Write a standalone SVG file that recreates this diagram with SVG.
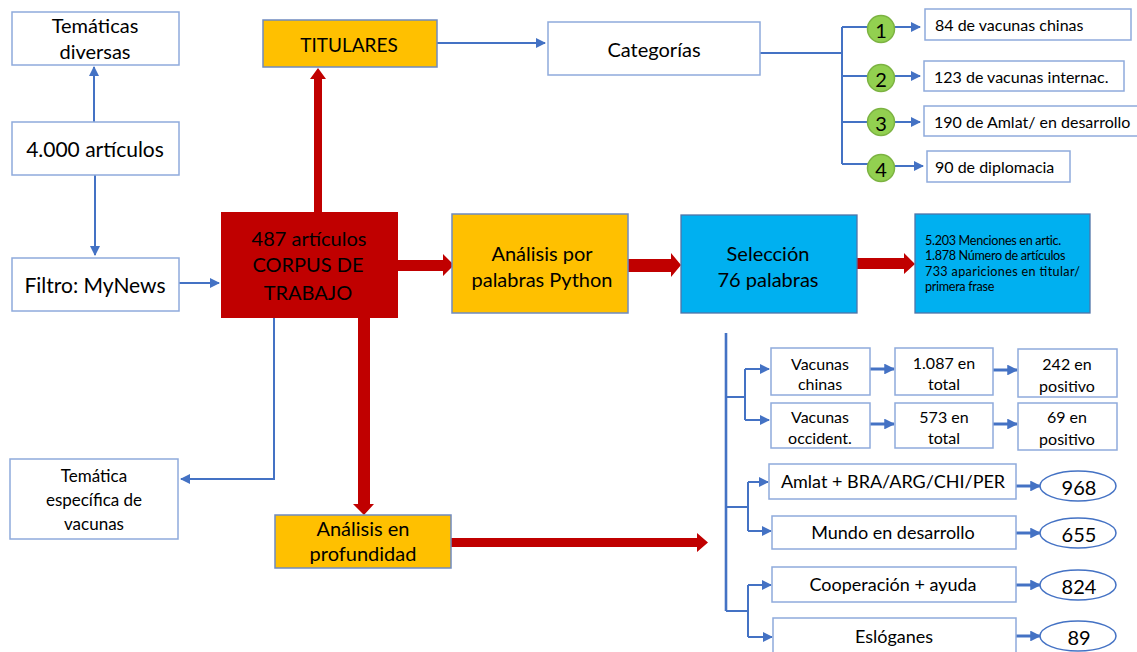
<svg xmlns="http://www.w3.org/2000/svg" width="1137" height="652" viewBox="0 0 1137 652">
<defs>
<style>
text{font-family:Lato,"Open Sans","Liberation Sans",sans-serif;fill:#000;text-anchor:middle;dominant-baseline:central}
.box{fill:#fff;stroke:#8FAADC;stroke-width:1.5}
.yel{fill:#FFC000;stroke:#6F8BC0;stroke-width:1.5}
.cyan{fill:#00B0F0;stroke:#4F74A8;stroke-width:1.3}
.red{fill:#C00000}
.c{fill:none;stroke:#4472C4;stroke-width:2}
.ct{fill:none;stroke:#4472C4;stroke-width:2.6}
.ca{fill:none;stroke:#4472C4;stroke-width:2;marker-end:url(#ah)}
.cb{fill:none;stroke:#4472C4;stroke-width:3;marker-end:url(#ah2)}
.circ{fill:#92D050;stroke:#7CB342;stroke-width:1.5}
.ell{fill:#fff;stroke:#4472C4;stroke-width:1.5}
.f21{font-size:21px}
.f20{font-size:20px}
.f19{font-size:19px}
.f18{font-size:18px}
.f17{font-size:17px}
.f16{font-size:16px}
.sm{font-size:12.6px;text-anchor:start;dominant-baseline:auto;letter-spacing:-0.3px}
</style>
<marker id="ah" viewBox="0 0 10 10" refX="9" refY="5" markerWidth="5" markerHeight="5" orient="auto" markerUnits="strokeWidth">
<path d="M0,0L10,5L0,10z" fill="#4472C4"/>
</marker>
<marker id="ah2" viewBox="0 0 10 10" refX="9" refY="5" markerWidth="3.6" markerHeight="3.6" orient="auto" markerUnits="strokeWidth">
<path d="M0,0L10,5L0,10z" fill="#4472C4"/>
</marker>
</defs>

<g id="connectors">
<path class="ca" d="M94,122V67"/>
<path class="ca" d="M95,175V255"/>
<path class="ca" d="M179,283H219"/>
<path class="c" d="M274,318V479H184"/>
<path class="ca" d="M274,479H181"/>
<path class="ca" d="M437,43H545"/>
<path class="c" d="M760,53H842"/>
<path class="c" d="M842,27V164"/>
<path class="c" d="M842,27H867M842,76H867M842,122H867M842,164H868"/>
<path class="ca" d="M895,27H920"/>
<path class="ca" d="M895,76H920"/>
<path class="ca" d="M895,122H920"/>
<path class="ca" d="M895,166H923"/>
<path class="ct" d="M726,333V611"/>
<path class="c" d="M726,397H745M745,369V420"/>
<path class="ca" d="M745,369H769"/>
<path class="ca" d="M745,420H769"/>
<path class="cb" d="M870,369H894"/>
<path class="cb" d="M993,370H1017"/>
<path class="cb" d="M870,424H894"/>
<path class="cb" d="M993,424H1017"/>
<path class="c" d="M726,507H748M748,482V531"/>
<path class="ca" d="M748,482H768"/>
<path class="ca" d="M748,531H771"/>
<path class="c" d="M726,611H748M748,585V637"/>
<path class="ca" d="M748,585H771"/>
<path class="ca" d="M748,637H772"/>
<path class="cb" d="M1016,486H1040"/>
<path class="cb" d="M1016,533H1040"/>
<path class="cb" d="M1016,585H1040"/>
<path class="cb" d="M1016,636H1040"/>
<polygon class="red" points="314,212 314,79 310,79 318,68 326,79 322,79 322,212"/>
<polygon class="red" points="398,260 443,260 443,254 454,265 443,276 443,271 398,271"/>
<polygon class="red" points="628,259 671,259 671,253 681,265 671,277 671,272 628,272"/>
<polygon class="red" points="857,258 904,258 904,253 915,264 904,274 904,269 857,269"/>
<polygon class="red" points="358,318 370,318 370,504 374,504 364,515 353,504 358,504"/>
<polygon class="red" points="451,538 697,538 697,533 708,542.5 697,552 697,547 451,547"/>
</g>

<g id="tematicas-diversas">
<rect class="box" x="12" y="12" width="167" height="53"/>
<text class="f20" x="95" y="25">Temáticas</text>
<text class="f20" x="95" y="51">diversas</text>
</g>
<g id="articulos-4000">
<rect class="box" x="12" y="122" width="167" height="53"/>
<text class="f21" x="95" y="148">4.000 artículos</text>
</g>
<g id="filtro">
<rect class="box" x="12" y="258" width="167" height="53"/>
<text class="f21" x="95" y="284">Filtro: MyNews</text>
</g>
<g id="corpus">
<rect class="red" x="221" y="212" width="177" height="106"/>
<text class="f20" x="309" y="238">487 artículos</text>
<text class="f20" x="308" y="264">CORPUS DE</text>
<text class="f20" x="308" y="292">TRABAJO</text>
</g>
<g id="titulares">
<rect class="yel" x="263" y="20" width="174" height="47"/>
<text class="f19" x="349" y="44">TITULARES</text>
</g>
<g id="categorias">
<rect class="box" x="548" y="22" width="212" height="53"/>
<text class="f20" x="654" y="49">Categorías</text>
</g>
<g id="cat1">
<circle class="circ" cx="881" cy="29" r="13.5"/>
<text class="f20" x="881" y="30">1</text>
<rect class="box" x="925" y="9" width="206" height="31"/>
<text class="f16" x="935" y="24" style="text-anchor:start">84 de vacunas chinas</text>
</g>
<g id="cat2">
<circle class="circ" cx="881" cy="78" r="13.5"/>
<text class="f20" x="881" y="79">2</text>
<rect class="box" x="924" y="61" width="200" height="30"/>
<text class="f16" x="934" y="76" style="text-anchor:start">123 de vacunas internac.</text>
</g>
<g id="cat3">
<circle class="circ" cx="881" cy="122" r="13.5"/>
<text class="f20" x="881" y="123">3</text>
<rect class="box" x="924" y="106" width="216" height="30"/>
<text class="f16" x="934" y="121" style="text-anchor:start">190 de Amlat/ en desarrollo</text>
</g>
<g id="cat4">
<circle class="circ" cx="881" cy="168" r="13.5"/>
<text class="f20" x="881" y="169">4</text>
<rect class="box" x="927" y="151" width="143" height="31"/>
<text class="f16" x="935" y="166" style="text-anchor:start">90 de diplomacia</text>
</g>
<g id="analisis-python">
<rect class="yel" x="452" y="214" width="176" height="99"/>
<text class="f20" x="542" y="253">Análisis por</text>
<text class="f20" x="542" y="279">palabras Python</text>
</g>
<g id="seleccion">
<rect class="cyan" x="681" y="215" width="176" height="98"/>
<text class="f20" x="768" y="253">Selección</text>
<text class="f20" x="768" y="279">76 palabras</text>
</g>
<g id="estadisticas">
<rect class="cyan" x="915" y="214" width="175" height="99"/>
<text class="sm" x="925" y="245">5.203 Menciones en artic.</text>
<text class="sm" x="925" y="260">1.878 Número de artículos</text>
<text class="sm" x="925" y="276" style="letter-spacing:0" textLength="155" lengthAdjust="spacing">733 apariciones en titular/</text>
<text class="sm" x="925" y="291">primera frase</text>
</g>
<g id="tematica-especifica">
<rect class="box" x="10" y="459" width="168" height="80"/>
<text class="f17" x="94" y="475">Temática</text>
<text class="f17" x="94" y="499">específica de</text>
<text class="f17" x="94" y="523">vacunas</text>
</g>
<g id="analisis-profundidad">
<rect class="yel" x="275" y="515" width="176" height="53"/>
<text class="f20" x="363" y="528">Análisis en</text>
<text class="f20" x="363" y="553">profundidad</text>
</g>
<g id="vacunas-chinas">
<rect class="box" x="771" y="348" width="99" height="47"/>
<text class="f16" x="820" y="363">Vacunas</text>
<text class="f16" x="820" y="383">chinas</text>
</g>
<g id="total-chinas">
<rect class="box" x="895" y="348" width="98" height="47"/>
<text class="f16" x="944" y="362">1.087 en</text>
<text class="f16" x="944" y="383">total</text>
</g>
<g id="positivo-chinas">
<rect class="box" x="1018" y="349" width="99" height="48"/>
<text class="f16" x="1067" y="363">242 en</text>
<text class="f16" x="1067" y="385">positivo</text>
</g>
<g id="vacunas-occident">
<rect class="box" x="771" y="403" width="99" height="45"/>
<text class="f16" x="820" y="416">Vacunas</text>
<text class="f16" x="820" y="437">occident.</text>
</g>
<g id="total-occident">
<rect class="box" x="895" y="403" width="98" height="45"/>
<text class="f16" x="944" y="416">573 en</text>
<text class="f16" x="944" y="437">total</text>
</g>
<g id="positivo-occident">
<rect class="box" x="1018" y="403" width="99" height="47"/>
<text class="f16" x="1067" y="416">69 en</text>
<text class="f16" x="1067" y="438">positivo</text>
</g>
<g id="amlat">
<rect class="box" x="769" y="464" width="247" height="35"/>
<text class="f18" x="893" y="481">Amlat + BRA/ARG/CHI/PER</text>
<ellipse class="ell" cx="1078" cy="486" rx="38" ry="15"/>
<text class="f20" x="1079" y="487">968</text>
</g>
<g id="mundo">
<rect class="box" x="772" y="516" width="244" height="33"/>
<text class="f18" x="893" y="532">Mundo en desarrollo</text>
<ellipse class="ell" cx="1078" cy="533" rx="38" ry="15"/>
<text class="f20" x="1079" y="534">655</text>
</g>
<g id="cooperacion">
<rect class="box" x="772" y="567" width="244" height="35"/>
<text class="f18" x="893" y="584">Cooperación + ayuda</text>
<ellipse class="ell" cx="1078" cy="585" rx="38" ry="15"/>
<text class="f20" x="1079" y="586">824</text>
</g>
<g id="esloganes">
<rect class="box" x="773" y="618" width="243" height="40"/>
<text class="f18" x="894" y="636">Eslóganes</text>
<ellipse class="ell" cx="1078" cy="636" rx="38" ry="15"/>
<text class="f20" x="1079" y="637">89</text>
</g>
</svg>
